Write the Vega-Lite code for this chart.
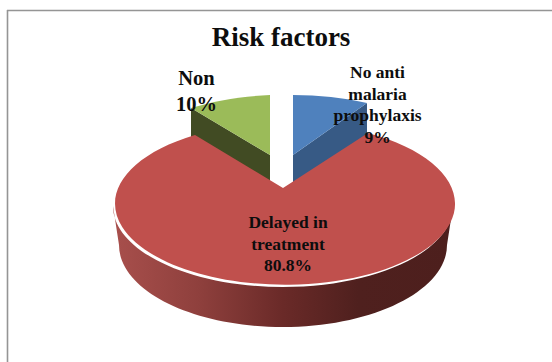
{
  "$schema": "https://vega.github.io/schema/vega-lite/v6.json",
  "width": 552,
  "height": 362,
  "padding": 0,
  "autosize": {"type": "none"},
  "background": "white",
  "config": {"view": {"stroke": null}},
  "data": {
    "values": [
      {"slice": "No anti malaria prophylaxis", "value": 9, "label": "No anti\nmalaria\nprophylaxis\n9%"},
      {"slice": "Delayed in treatment", "value": 80.8, "label": "Delayed in\ntreatment\n80.8%"},
      {"slice": "Non", "value": 10, "label": "Non\n10%"}
    ]
  },
  "layer": [
    {
      "description": "Chart frame, top edge",
      "data": {"values": [{"edge": "top"}]},
      "mark": {"type": "rule", "stroke": "#959595", "strokeWidth": 1.6},
      "encoding": {
        "x": {"datum": 7, "type": "quantitative", "scale": {"domain": [0, 552], "nice": false, "zero": false}, "axis": null},
        "x2": {"datum": 552},
        "y": {"datum": 10.5, "type": "quantitative", "scale": {"domain": [362, 0], "nice": false, "zero": false}, "axis": null}
      }
    },
    {
      "description": "Chart frame, left edge",
      "data": {"values": [{"edge": "left"}]},
      "mark": {"type": "rule", "stroke": "#959595", "strokeWidth": 1.6},
      "encoding": {
        "x": {"datum": 7.5, "type": "quantitative", "scale": {"domain": [0, 552], "nice": false, "zero": false}, "axis": null},
        "y": {"datum": 10, "type": "quantitative", "scale": {"domain": [362, 0], "nice": false, "zero": false}, "axis": null},
        "y2": {"datum": 362}
      }
    },
    {
      "description": "Wall of the pulled-out green slice",
      "transform": [{"filter": "datum.slice === 'Non'"}],
      "mark": {"type": "point", "filled": true, "opacity": 1, "size": 4, "shape": "M-13,-51 L-92,-98 L-92,-66 L-13,-23 Z", "fill": "#414b23"},
      "encoding": {
        "x": {"datum": 283, "type": "quantitative", "scale": {"domain": [0, 552], "nice": false, "zero": false}, "axis": null},
        "y": {"datum": 206, "type": "quantitative", "scale": {"domain": [362, 0], "nice": false, "zero": false}, "axis": null}
      }
    },
    {
      "description": "Top of the green slice",
      "transform": [{"filter": "datum.slice === 'Non'"}],
      "mark": {"type": "point", "filled": true, "opacity": 1, "size": 4, "shape": "M-13,-51 L-13,-111 A170,78 0 0 0 -92,-98 Z", "fill": "#9bbb59"},
      "encoding": {
        "x": {"datum": 283, "type": "quantitative", "scale": {"domain": [0, 552], "nice": false, "zero": false}, "axis": null},
        "y": {"datum": 206, "type": "quantitative", "scale": {"domain": [362, 0], "nice": false, "zero": false}, "axis": null}
      }
    },
    {
      "description": "Wall of the pulled-out blue slice",
      "transform": [{"filter": "datum.slice === 'No anti malaria prophylaxis'"}],
      "mark": {"type": "point", "filled": true, "opacity": 1, "size": 4, "shape": "M10,-51 L84,-103 L84,-66 L10,-23 Z", "fill": "#375a85"},
      "encoding": {
        "x": {"datum": 283, "type": "quantitative", "scale": {"domain": [0, 552], "nice": false, "zero": false}, "axis": null},
        "y": {"datum": 206, "type": "quantitative", "scale": {"domain": [362, 0], "nice": false, "zero": false}, "axis": null}
      }
    },
    {
      "description": "Top of the blue slice",
      "transform": [{"filter": "datum.slice === 'No anti malaria prophylaxis'"}],
      "mark": {"type": "point", "filled": true, "opacity": 1, "size": 4, "shape": "M10,-51 L10,-111 A170,78 0 0 1 84,-103 Z", "fill": "#4f81bd"},
      "encoding": {
        "x": {"datum": 283, "type": "quantitative", "scale": {"domain": [0, 552], "nice": false, "zero": false}, "axis": null},
        "y": {"datum": 206, "type": "quantitative", "scale": {"domain": [362, 0], "nice": false, "zero": false}, "axis": null}
      }
    },
    {
      "description": "Front wall of the red slice, shaded from left to right",
      "transform": [{"filter": "datum.slice === 'Delayed in treatment'"}],
      "mark": {
        "type": "point", "filled": true, "opacity": 1, "size": 4,
        "shape": "M-170,0 A170,81 0 0 0 170,0 L164,39 A164,82 0 0 1 -164,39 Z",
        "fill": {
          "gradient": "linear", "x1": 0, "y1": 0, "x2": 1, "y2": 0,
          "stops": [
            {"offset": 0, "color": "#a84f4c"},
            {"offset": 0.25, "color": "#8f403d"},
            {"offset": 0.5, "color": "#6a2a28"},
            {"offset": 0.72, "color": "#4f201e"},
            {"offset": 1, "color": "#4d1f1d"}
          ]
        }
      },
      "encoding": {
        "x": {"datum": 283, "type": "quantitative", "scale": {"domain": [0, 552], "nice": false, "zero": false}, "axis": null},
        "y": {"datum": 206, "type": "quantitative", "scale": {"domain": [362, 0], "nice": false, "zero": false}, "axis": null}
      }
    },
    {
      "description": "Top of the red slice",
      "transform": [{"filter": "datum.slice === 'Delayed in treatment'"}],
      "mark": {"type": "point", "filled": true, "opacity": 1, "size": 4, "shape": "M0,-18 L-88,-71 A170,81 0 1 0 85,-73 Z", "fill": "#c0504d"},
      "encoding": {
        "x": {"datum": 283, "type": "quantitative", "scale": {"domain": [0, 552], "nice": false, "zero": false}, "axis": null},
        "y": {"datum": 206, "type": "quantitative", "scale": {"domain": [362, 0], "nice": false, "zero": false}, "axis": null}
      }
    },
    {
      "description": "Chart heading",
      "data": {"values": [{"heading": "Risk factors"}]},
      "mark": {"type": "text", "font": "Liberation Serif", "fontWeight": "bold", "fontSize": 27, "align": "center", "baseline": "alphabetic", "color": "#0d0d0d"},
      "encoding": {
        "x": {"datum": 281, "type": "quantitative", "scale": {"domain": [0, 552], "nice": false, "zero": false}, "axis": null},
        "y": {"datum": 46, "type": "quantitative", "scale": {"domain": [362, 0], "nice": false, "zero": false}, "axis": null},
        "text": {"field": "heading", "type": "nominal"}
      }
    },
    {
      "description": "Label of the blue slice",
      "transform": [{"filter": "datum.slice === 'No anti malaria prophylaxis'"}],
      "mark": {"type": "text", "font": "Liberation Serif", "fontWeight": "bold", "fontSize": 17.5, "lineHeight": 21.5, "lineBreak": "\n", "align": "center", "baseline": "alphabetic", "color": "#0d0d0d"},
      "encoding": {
        "x": {"datum": 377.5, "type": "quantitative", "scale": {"domain": [0, 552], "nice": false, "zero": false}, "axis": null},
        "y": {"datum": 78, "type": "quantitative", "scale": {"domain": [362, 0], "nice": false, "zero": false}, "axis": null},
        "text": {"field": "label", "type": "nominal"}
      }
    },
    {
      "description": "Label of the red slice",
      "transform": [{"filter": "datum.slice === 'Delayed in treatment'"}],
      "mark": {"type": "text", "font": "Liberation Serif", "fontWeight": "bold", "fontSize": 17.5, "lineHeight": 21.5, "lineBreak": "\n", "align": "center", "baseline": "alphabetic", "color": "#0d0d0d"},
      "encoding": {
        "x": {"datum": 288, "type": "quantitative", "scale": {"domain": [0, 552], "nice": false, "zero": false}, "axis": null},
        "y": {"datum": 228, "type": "quantitative", "scale": {"domain": [362, 0], "nice": false, "zero": false}, "axis": null},
        "text": {"field": "label", "type": "nominal"}
      }
    },
    {
      "description": "Label of the green slice",
      "transform": [{"filter": "datum.slice === 'Non'"}],
      "mark": {"type": "text", "font": "Liberation Serif", "fontWeight": "bold", "fontSize": 20.5, "lineHeight": 25.5, "lineBreak": "\n", "align": "center", "baseline": "alphabetic", "color": "#0d0d0d"},
      "encoding": {
        "x": {"datum": 196.5, "type": "quantitative", "scale": {"domain": [0, 552], "nice": false, "zero": false}, "axis": null},
        "y": {"datum": 85, "type": "quantitative", "scale": {"domain": [362, 0], "nice": false, "zero": false}, "axis": null},
        "text": {"field": "label", "type": "nominal"}
      }
    }
  ]
}
